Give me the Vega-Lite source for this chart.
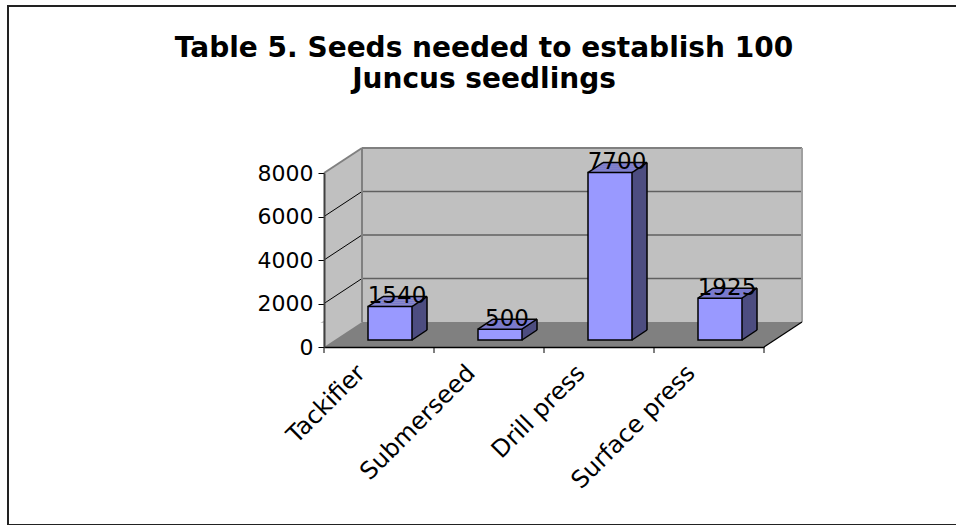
{
"$schema": "https://vega.github.io/schema/vega-lite/v6.json",
"width": 952, "height": 519,
"autosize": {"type": "none"},
"padding": {"left": 8, "top": 6, "right": 0, "bottom": 0},
"background": "white",
"title": {"text": ["Table 5. Seeds needed to establish 100", "Juncus  seedlings"], "font": "DejaVu Sans", "fontSize": 28, "fontWeight": "bold", "lineHeight": 31, "anchor": "middle", "frame": "group", "offset": -88, "color": "#000"},
"config": {"view": {"stroke": "#222", "strokeWidth": 2}, "axis": {"zindex": 2}},
"data": {"values": [
  {"method": "Tackifier", "seeds": 1540},
  {"method": "Submerseed", "seeds": 500},
  {"method": "Drill press", "seeds": 7700},
  {"method": "Surface press", "seeds": 1925}
]},
"layer": [
  {"data": {"values": [{}]}, "mark": {"type": "rect", "fill": "#c0c0c0", "xOffset": -17, "x2Offset": 93, "yOffset": -25, "y2Offset": -25}, "encoding": {"x": {"datum": "Tackifier"}, "x2": {"datum": "Surface press"}, "y": {"datum": 8000}, "y2": {"datum": 0}}},
  {"data": {"values": [{"v": 2000}, {"v": 4000}, {"v": 6000}]}, "mark": {"type": "rule", "color": "#606060", "strokeWidth": 1.5, "xOffset": -17, "x2Offset": 93, "yOffset": -25, "y2Offset": -25}, "encoding": {"x": {"datum": "Tackifier"}, "x2": {"datum": "Surface press"}, "y": {"field": "v", "type": "quantitative"}, "y2": {"field": "v"}}},

  {"data": {"values": [{}]}, "mark": {"type": "rect", "fill": "#c0c0c0", "xOffset": -55, "x2Offset": -17, "yOffset": -25, "y2Offset": 0}, "encoding": {"x": {"datum": "Tackifier"}, "x2": {"datum": "Tackifier"}, "y": {"datum": 8000}, "y2": {"datum": 0}}},
  {"data": {"values": [{}]}, "mark": {"type": "rect", "fill": "#808080", "xOffset": -55, "x2Offset": 93, "yOffset": 0, "y2Offset": -25}, "encoding": {"x": {"datum": "Tackifier"}, "x2": {"datum": "Surface press"}, "y": {"datum": 0}, "y2": {"datum": 0}}},
  {"data": {"values": [{}]}, "mark": {"type": "rule", "color": "#c0c0c0", "strokeWidth": 22, "xOffset": -61, "x2Offset": -23, "yOffset": -9.2, "y2Offset": -34.2}, "encoding": {"x": {"datum": "Tackifier"}, "x2": {"datum": "Tackifier"}, "y": {"datum": 0}, "y2": {"datum": 0}}},
  {"data": {"values": [{}]}, "mark": {"type": "rect", "fill": "white", "xOffset": -72, "x2Offset": -55.6, "yOffset": -24, "y2Offset": 2}, "encoding": {"x": {"datum": "Tackifier"}, "x2": {"datum": "Tackifier"}, "y": {"datum": 0}, "y2": {"datum": 0}}},
  {"data": {"values": [{}]}, "mark": {"type": "rule", "color": "white", "strokeWidth": 24, "xOffset": -61.6, "x2Offset": -23.6, "yOffset": -10, "y2Offset": -35}, "encoding": {"x": {"datum": "Tackifier"}, "x2": {"datum": "Tackifier"}, "y": {"datum": 8000}, "y2": {"datum": 8000}}},
  {"data": {"values": [{}]}, "mark": {"type": "rule", "color": "white", "strokeWidth": 24, "xOffset": 61.6, "x2Offset": 99.6, "yOffset": 10, "y2Offset": -15}, "encoding": {"x": {"datum": "Surface press"}, "x2": {"datum": "Surface press"}, "y": {"datum": 0}, "y2": {"datum": 0}}},

  {"data": {"values": [{"v": 2000}, {"v": 4000}, {"v": 6000}]}, "mark": {"type": "rule", "color": "#000", "strokeWidth": 1, "xOffset": -55, "x2Offset": -17, "yOffset": 0, "y2Offset": -25}, "encoding": {"x": {"datum": "Tackifier"}, "x2": {"datum": "Tackifier"}, "y": {"field": "v", "type": "quantitative"}, "y2": {"field": "v"}}},
  {"data": {"values": [{}]}, "mark": {"type": "rule", "color": "#808080", "strokeWidth": 2, "xOffset": -17, "x2Offset": 93, "yOffset": -25, "y2Offset": -25}, "encoding": {"x": {"datum": "Tackifier"}, "x2": {"datum": "Surface press"}, "y": {"datum": 8000}, "y2": {"datum": 8000}}},
  {"data": {"values": [{}]}, "mark": {"type": "rule", "color": "#808080", "strokeWidth": 2, "xOffset": -55, "x2Offset": -17, "yOffset": 0, "y2Offset": -25}, "encoding": {"x": {"datum": "Tackifier"}, "x2": {"datum": "Tackifier"}, "y": {"datum": 8000}, "y2": {"datum": 8000}}},
  {"data": {"values": [{}]}, "mark": {"type": "rule", "color": "#808080", "strokeWidth": 2, "xOffset": -17, "yOffset": -25, "y2Offset": -25}, "encoding": {"x": {"datum": "Tackifier"}, "y": {"datum": 0}, "y2": {"datum": 8000}}},
  {"data": {"values": [{}]}, "mark": {"type": "rule", "color": "#a0a0a0", "strokeWidth": 2, "xOffset": 93, "yOffset": -25, "y2Offset": -25}, "encoding": {"x": {"datum": "Surface press"}, "y": {"datum": 0}, "y2": {"datum": 8000}}},
  {"data": {"values": [{}]}, "mark": {"type": "rule", "color": "#000", "strokeWidth": 1.2, "xOffset": 55, "x2Offset": 93, "yOffset": 0, "y2Offset": -25}, "encoding": {"x": {"datum": "Surface press"}, "x2": {"datum": "Surface press"}, "y": {"datum": 0}, "y2": {"datum": 0}}},

  {"mark": {"type": "rule", "color": "#4d4d80", "strokeWidth": 3.2, "xOffset": 34.5, "yOffset": -8, "y2Offset": -8}, "encoding": {"x": {"field": "method", "type": "nominal"}, "y": {"field": "seeds", "type": "quantitative"}, "y2": {"datum": 0}}},
  {"mark": {"type": "rule", "color": "#4d4d80", "strokeWidth": 3.2, "xOffset": 37.5, "yOffset": -10, "y2Offset": -10}, "encoding": {"x": {"field": "method", "type": "nominal"}, "y": {"field": "seeds", "type": "quantitative"}, "y2": {"datum": 0}}},
  {"mark": {"type": "rule", "color": "#4d4d80", "strokeWidth": 3.2, "xOffset": 40.5, "yOffset": -12, "y2Offset": -12}, "encoding": {"x": {"field": "method", "type": "nominal"}, "y": {"field": "seeds", "type": "quantitative"}, "y2": {"datum": 0}}},
  {"mark": {"type": "rule", "color": "#4d4d80", "strokeWidth": 3.2, "xOffset": 43.5, "yOffset": -14, "y2Offset": -14}, "encoding": {"x": {"field": "method", "type": "nominal"}, "y": {"field": "seeds", "type": "quantitative"}, "y2": {"datum": 0}}},
  {"mark": {"type": "rule", "color": "#4d4d80", "strokeWidth": 3.2, "xOffset": 46.5, "yOffset": -16, "y2Offset": -16}, "encoding": {"x": {"field": "method", "type": "nominal"}, "y": {"field": "seeds", "type": "quantitative"}, "y2": {"datum": 0}}},

  {"mark": {"type": "rule", "color": "#7a7acc", "strokeWidth": 2.2, "xOffset": -9.5, "x2Offset": 34.5, "yOffset": -8, "y2Offset": -8}, "encoding": {"x": {"field": "method", "type": "nominal"}, "x2": {"field": "method"}, "y": {"field": "seeds", "type": "quantitative"}, "y2": {"field": "seeds"}}},
  {"mark": {"type": "rule", "color": "#7a7acc", "strokeWidth": 2.2, "xOffset": -6.5, "x2Offset": 37.5, "yOffset": -10, "y2Offset": -10}, "encoding": {"x": {"field": "method", "type": "nominal"}, "x2": {"field": "method"}, "y": {"field": "seeds", "type": "quantitative"}, "y2": {"field": "seeds"}}},
  {"mark": {"type": "rule", "color": "#7a7acc", "strokeWidth": 2.2, "xOffset": -3.5, "x2Offset": 40.5, "yOffset": -12, "y2Offset": -12}, "encoding": {"x": {"field": "method", "type": "nominal"}, "x2": {"field": "method"}, "y": {"field": "seeds", "type": "quantitative"}, "y2": {"field": "seeds"}}},
  {"mark": {"type": "rule", "color": "#7a7acc", "strokeWidth": 2.2, "xOffset": -0.5, "x2Offset": 43.5, "yOffset": -14, "y2Offset": -14}, "encoding": {"x": {"field": "method", "type": "nominal"}, "x2": {"field": "method"}, "y": {"field": "seeds", "type": "quantitative"}, "y2": {"field": "seeds"}}},
  {"mark": {"type": "rule", "color": "#7a7acc", "strokeWidth": 2.2, "xOffset": 2.5, "x2Offset": 46.5, "yOffset": -16, "y2Offset": -16}, "encoding": {"x": {"field": "method", "type": "nominal"}, "x2": {"field": "method"}, "y": {"field": "seeds", "type": "quantitative"}, "y2": {"field": "seeds"}}},

  {"mark": {"type": "bar", "width": 44, "xOffset": 11, "yOffset": -7, "y2Offset": -7, "fill": "#9999ff", "stroke": "#000", "strokeWidth": 1.5},
   "encoding": {
     "x": {"field": "method", "type": "nominal", "sort": null,
       "scale": {"type": "point", "domain": ["Tackifier", "Submerseed", "Drill press", "Surface press"], "range": [316, 756], "padding": 0.5},
       "axis": {"title": null, "orient": "bottom", "offset": -178, "zindex": 2, "labelAngle": -45, "labelFont": "DejaVu Sans", "labelFontSize": 24, "labelColor": "#000", "ticks": false, "domainColor": "#000", "domainWidth": 1.5, "labelPadding": 22, "labelOffset": -18, "labelOverlap": false, "labelBound": false, "grid": false}},
     "y": {"field": "seeds", "type": "quantitative",
       "scale": {"domain": [0, 8000], "range": [341, 167], "nice": false, "zero": true},
       "axis": {"title": null, "orient": "left", "offset": -316, "zindex": 2, "values": [0, 2000, 4000, 6000, 8000], "format": "d", "labelFont": "DejaVu Sans", "labelFontSize": 22, "labelColor": "#000", "tickColor": "#000", "tickSize": 6, "domainColor": "#404040", "domainWidth": 2, "labelPadding": 5, "grid": false}}}},

  {"mark": {"type": "rule", "color": "#000", "strokeWidth": 1.5, "xOffset": -11, "x2Offset": 4, "yOffset": -7, "y2Offset": -17}, "encoding": {"x": {"field": "method", "type": "nominal"}, "x2": {"field": "method"}, "y": {"field": "seeds", "type": "quantitative"}, "y2": {"field": "seeds"}}},
  {"mark": {"type": "rule", "color": "#000", "strokeWidth": 1.5, "xOffset": 33, "x2Offset": 48, "yOffset": -7, "y2Offset": -17}, "encoding": {"x": {"field": "method", "type": "nominal"}, "x2": {"field": "method"}, "y": {"field": "seeds", "type": "quantitative"}, "y2": {"field": "seeds"}}},
  {"mark": {"type": "rule", "color": "#000", "strokeWidth": 1.5, "xOffset": 33, "x2Offset": 48, "yOffset": -7, "y2Offset": -17}, "encoding": {"x": {"field": "method", "type": "nominal"}, "x2": {"field": "method"}, "y": {"datum": 0}, "y2": {"datum": 0}}},
  {"mark": {"type": "rule", "color": "#000", "strokeWidth": 1.5, "xOffset": 4, "x2Offset": 48, "yOffset": -17, "y2Offset": -17}, "encoding": {"x": {"field": "method", "type": "nominal"}, "x2": {"field": "method"}, "y": {"field": "seeds", "type": "quantitative"}, "y2": {"field": "seeds"}}},
  {"mark": {"type": "rule", "color": "#000", "strokeWidth": 1.5, "xOffset": 48, "yOffset": -17, "y2Offset": -17}, "encoding": {"x": {"field": "method", "type": "nominal"}, "y": {"field": "seeds", "type": "quantitative"}, "y2": {"datum": 0}}},

  {"mark": {"type": "text", "font": "DejaVu Sans", "fontSize": 23, "color": "#000", "align": "center", "baseline": "alphabetic", "xOffset": 18, "yOffset": -10.5}, "encoding": {"x": {"field": "method", "type": "nominal"}, "y": {"field": "seeds", "type": "quantitative"}, "text": {"field": "seeds", "type": "quantitative"}}},

  {"mark": {"type": "rule", "color": "#000", "strokeWidth": 1, "xOffset": -55, "yOffset": 0, "y2Offset": 6}, "encoding": {"x": {"field": "method", "type": "nominal"}, "y": {"datum": 0}, "y2": {"datum": 0}}},
  {"data": {"values": [{}]}, "mark": {"type": "rule", "color": "#000", "strokeWidth": 1, "xOffset": 55, "yOffset": 0, "y2Offset": 6}, "encoding": {"x": {"datum": "Surface press"}, "y": {"datum": 0}, "y2": {"datum": 0}}}
]
}
